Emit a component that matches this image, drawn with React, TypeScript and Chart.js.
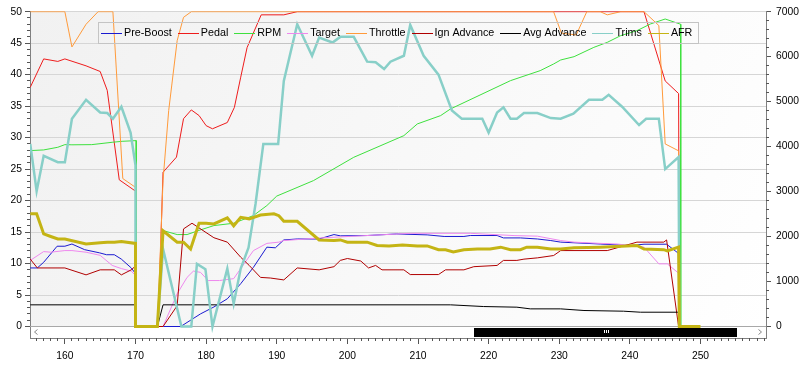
import { useEffect, useRef } from "react";
import { Chart, registerables } from "chart.js";

Chart.register(...registerables);

type P = [number, number];

// ---------- data ----------
const xTicks = [160, 170, 180, 190, 200, 210, 220, 230, 240, 250];
const leftTicks = [0, 5, 10, 15, 20, 25, 30, 35, 40, 45, 50];
const rightTicks = [0, 1000, 2000, 3000, 4000, 5000, 6000, 7000];
const seriesNames = ["Pre-Boost", "Pedal", "RPM", "Target", "Throttle", "Ign Advance", "Avg Advance", "Trims", "AFR"];
const scrollThumb = [217.9, 255.2];

const preBoost: P[] = [
  [155.1, 9.3], [156.1, 9.3], [157, 10.2], [158.9, 12.75], [160, 12.75], [161, 13.1], [162.8, 12.2], [164.9, 11.7],
  [165.9, 11.4], [167, 11.4], [168, 10.7], [169.4, 9.3], [170, 8.4], [170, 0], [176.4, 0], [179.2, 2.0], [181.1, 3.1],
  [183, 4.4], [184.9, 6.8], [186.7, 9.4], [188.6, 12.6], [189.8, 12.5], [191, 13.75], [192.9, 13.9], [196, 13.9],
  [198.1, 14.6], [199, 14.4], [202.8, 14.45], [207, 14.7], [211.3, 14.55], [213.7, 14.3], [216.5, 14.3], [217.4, 14.45],
  [221.2, 14.45], [222.1, 14.07], [224.5, 14.07], [226.9, 13.9], [228.8, 13.65], [230.2, 13.4], [235.8, 13.1],
  [240.1, 12.86], [242, 13.07], [245.2, 13.07], [246.9, 11.6], [247, 0],
];

const pedal: P[] = [
  [155.1, 38], [157, 42.5], [159, 42.1], [160, 42.5], [163, 41.4], [165, 40.5], [166, 37.5], [167.7, 23.3], [170, 21.5],
  [170, 0], [173.2, 0], [173.9, 24.5], [175.8, 26.9], [176.8, 33], [177.9, 34.4], [179, 33.5], [180, 31.9], [180.9, 31.4],
  [183, 32.4], [184, 34.8], [184.9, 39.6], [185.8, 44.3], [187.8, 49.5], [191, 49.5], [192.9, 50], [242, 50], [245, 39],
  [246.9, 37], [247, 0],
];

const rpm: P[] = [
  [155.1, 3911], [157, 3926], [159, 3985], [160, 4044], [161, 4040], [163.8, 4044], [166.7, 4096], [168.1, 4118],
  [170.1, 4133], [170.1, 0], [173.1, 0], [173.9, 2133], [175.9, 2044], [177.3, 2044], [179.2, 2148], [181.1, 2244],
  [183.9, 2296], [186.7, 2467], [188.6, 2689], [190, 2900], [195.2, 3244], [200.9, 3762], [208, 4244], [209.9, 4504],
  [213.2, 4689], [214.6, 4837], [223.1, 5467], [227.3, 5689], [229.2, 5837], [230.2, 5926], [232.1, 6000],
  [234.9, 6207], [236.8, 6318], [238.7, 6467], [241, 6578], [242.9, 6726], [245, 6837], [247.2, 6720], [247.2, 0],
];

const target: P[] = [
  [155.1, 10.5], [157, 11.9], [158, 11.8], [160, 12.06], [161, 12.06], [163, 11.8], [165, 11.3], [166.7, 9.7],
  [168, 9.2], [169.4, 8.8], [170, 8.1], [170, 0], [173.9, 0], [175.9, 5.2], [177.3, 7.8], [178.2, 8.8], [179.2, 8.6],
  [180.3, 7.3], [181.9, 7.3], [183.9, 7.6], [184.9, 9.2], [186.7, 12.06], [188.6, 13.2], [190.3, 13.4], [191, 13.65],
  [196.2, 14.07], [208.9, 14.8], [217.4, 14.8], [223.6, 14.44], [226.9, 14.35], [230.2, 13.65], [232.1, 13.4],
  [235.8, 13.2], [238.2, 13.1], [240.1, 12.86], [242, 12.6], [244.1, 9.95], [245.3, 9.95], [246.9, 8.47], [247, 0],
];

const throttle: P[] = [
  [155.1, 50], [160, 50], [161, 44.4], [163, 48], [164.7, 50], [166.8, 50], [168.2, 23.5], [170, 22.1], [170, 0],
  [173.1, 0], [173.9, 23.2], [174.7, 34.3], [175.9, 45.4], [176.8, 49.1], [177.9, 50], [229.2, 50], [230.3, 46.6],
  [232.4, 46.3], [233.9, 50], [235.8, 50], [236.8, 49.5], [238.7, 50], [242, 50], [244.1, 47.8], [245, 29],
  [246.9, 27.9], [247, 0],
];

const ignAdvance: P[] = [
  [155.1, 10.7], [156.1, 9.3], [160, 9.3], [163, 8.2], [165, 9.0], [167, 9.0], [168, 8.2], [169.4, 9.0], [170, 9.6],
  [170, 0], [173.9, 0], [175.9, 3.3], [176.8, 15.5], [178, 16.4], [181.1, 14.1], [183, 13.4], [184.9, 11.0],
  [186.1, 9.7], [187.7, 7.8], [189.1, 7.7], [191, 7.4], [192.9, 9.3], [196, 9.0], [198.1, 9.5], [199, 10.5],
  [200, 10.8], [201.9, 10.4], [203, 9.3], [204, 9.7], [204.9, 9.0], [208, 9.0], [208.9, 8.25], [212.9, 8.25],
  [213.9, 9.0], [216.5, 9.0], [217.9, 9.5], [221.2, 9.7], [222.1, 10.5], [224, 10.5], [225, 10.7], [226.9, 10.9],
  [229.2, 11.27], [230.2, 12.06], [236.8, 12.06], [241, 13.4], [244.8, 13.4], [245.2, 13.75], [246.9, 0],
];

const avgAdvance: P[] = [
  [155.1, 3.44], [170, 3.44], [170, 0], [173.1, 0], [173.9, 3.44], [214.6, 3.44], [219.3, 3.17], [224, 3.07],
  [225.9, 2.8], [230.2, 2.8], [233.5, 2.54], [239.1, 2.43], [241.5, 2.27], [246.9, 2.27], [247, 0],
];

const trims: P[] = [
  [155.1, 29], [156, 21.5], [157, 27.1], [159, 26.1], [160, 26.1], [161, 33], [163, 36], [165, 34], [166, 33.9],
  [166.8, 33], [168, 34.9], [169.3, 30.8], [170, 25.6], [170, 0], [173.1, 0], [173.9, 12.3], [176.5, 0], [177.9, 0],
  [178.7, 9.95], [179.9, 9.1], [180.9, 0], [183, 9.2], [183.9, 3.6], [184.9, 9.2], [186, 12.5], [187, 19.5],
  [188.1, 29], [190.2, 29], [191, 39], [192.9, 48], [195, 43], [196, 45.9], [197.9, 45.1], [199, 46], [200.9, 46],
  [202.8, 42.06], [204, 41.96], [205.2, 40.9], [206.1, 42.06], [208, 43], [208.9, 47.9], [210.8, 43], [212.9, 40],
  [214.8, 34.3], [216.2, 33], [219.1, 33], [220, 30.8], [221.2, 34], [222.1, 34.8], [223.1, 33], [224, 33],
  [225, 33.9], [226.9, 33.9], [228.8, 33.1], [230.2, 33], [232, 33.8], [234.2, 36], [236.1, 36], [237, 36.8],
  [238.9, 34.9], [241.3, 32], [242.3, 33], [244.1, 33], [245, 25], [246.9, 26.9], [247, 0],
];

const afr: P[] = [
  [155.1, 17.9], [156, 17.9], [157, 14.7], [158, 14.3], [159, 13.9], [160, 13.9], [163, 13.1], [165, 13.3],
  [166, 13.4], [167, 13.4], [168, 13.5], [170, 13.2], [170, 0], [173.1, 0], [173.9, 15.2], [175.9, 13.4],
  [176.8, 13.4], [177.8, 12.3], [179, 16.4], [180, 16.4], [181.1, 16.3], [183, 17.25], [183.9, 16], [184.9, 17.35],
  [186.1, 17.1], [187.7, 17.7], [189.6, 17.9], [190.3, 17.6], [191, 16.7], [192.9, 16.7], [196, 13.75],
  [198.1, 13.65], [199, 13.75], [200, 13.4], [202.8, 13.4], [204.2, 12.86], [205.9, 12.8], [207.8, 12.95],
  [209.9, 12.8], [211.3, 12.8], [212.9, 12.2], [213.9, 12.2], [215, 11.85], [216.5, 12.2], [218.4, 12.3],
  [220.2, 12.3], [221.7, 12.6], [223.1, 12.2], [224.5, 12.2], [225.4, 12.6], [226.9, 12.6], [228.8, 12.3],
  [230.2, 12.3], [232.1, 12.5], [235.8, 12.6], [241, 12.86], [242, 12.3], [244.8, 12.2], [245.3, 12.0],
  [246.9, 12.6], [247, 0], [250, 0],
];

const seriesData: P[][] = [preBoost, pedal, rpm, target, throttle, ignAdvance, avgAdvance, trims, afr];
const seriesColors = ["#1a1ad0", "#ee1c1c", "#3ee03e", "#ee88ee", "#ff9a3a", "#b00000", "#000000", "#88cfc8", "#c4b414"];
const seriesWidths = [1, 1, 1, 1, 1, 1, 1, 2.5, 3];
const seriesAxis = ["y", "y", "y2", "y", "y", "y", "y", "y", "y"];

// ---------- frame ranges (chosen so 0, 50 and whole x values land on pixel centres) ----------
const X_MIN = 155.062;
const X_MAX = 259.274;
const Y_MAX = 50.08;
const Y_MIN = -1.826;
const Y2_MIN = Y_MIN * 140;
const Y2_MAX = Y_MAX * 140;

const TICK_FONT = { family: "'Liberation Sans', Arial, sans-serif", size: 10.3 };
const LEGEND_FONT = "10.75px 'Liberation Sans', Arial, sans-serif";

const backgroundPlugin = {
  id: "bgPlugin",
  beforeDraw(chart: any) {
    const { ctx, chartArea: a } = chart;
    ctx.save();
    ctx.fillStyle = "#ffffff";
    ctx.fillRect(0, 0, chart.width, chart.height);
    const g = ctx.createLinearGradient(a.left, a.top, a.right, a.bottom);
    g.addColorStop(0, "#f1f1f1");
    g.addColorStop(1, "#ffffff");
    ctx.fillStyle = g;
    ctx.fillRect(a.left, a.top, a.right - a.left, a.bottom - a.top);
    ctx.restore();
  },
};

const scrollbarPlugin = {
  id: "scrollbarPlugin",
  beforeDatasetsDraw(chart: any) {
    const { ctx, chartArea: a, scales } = chart;
    const y0 = Math.floor(scales.y.getPixelForValue(0));
    ctx.save();
    ctx.fillStyle = "#ffffff";
    ctx.fillRect(a.left + 1, y0 + 1, a.right - a.left - 2, a.bottom - y0 - 1);
    ctx.fillStyle = "#a8a8a8";
    ctx.fillRect(a.left, y0, a.right - a.left, 1);
    const x1 = Math.round(scales.x.getPixelForValue(scrollThumb[0]));
    const x2 = Math.round(scales.x.getPixelForValue(scrollThumb[1]));
    ctx.fillStyle = "#000000";
    ctx.fillRect(x1, y0 + 2, x2 - x1, a.bottom - y0 - 3);
    const cx = Math.round((x1 + x2) / 2);
    const cy = Math.round((y0 + a.bottom) / 2);
    ctx.fillStyle = "#ffffff";
    for (const d of [-2, 0, 2]) ctx.fillRect(cx + d, cy - 2, 1, 3);
    ctx.strokeStyle = "#8a8a8a";
    ctx.lineWidth = 1;
    ctx.beginPath();
    ctx.moveTo(a.left + 7.5, y0 + 3.5);
    ctx.lineTo(a.left + 4.5, y0 + 6);
    ctx.lineTo(a.left + 7.5, y0 + 8.5);
    ctx.moveTo(a.right - 7.5, y0 + 3.5);
    ctx.lineTo(a.right - 4.5, y0 + 6);
    ctx.lineTo(a.right - 7.5, y0 + 8.5);
    ctx.stroke();
    ctx.restore();
  },
};

const legendPlugin = {
  id: "boxLegend",
  afterDatasetsDraw(chart: any) {
    const { ctx, chartArea: a } = chart;
    ctx.save();
    ctx.font = LEGEND_FONT;
    const widths = seriesNames.map((n) => ctx.measureText(n).width);
    const lineLen = 21, gapLT = 2, gapTL = 6, padL = 3, padR = 6, h = 21;
    let total = padL + padR;
    widths.forEach((w, i) => {
      total += lineLen + gapLT + w + (i < widths.length - 1 ? gapTL : 0);
    });
    const left = Math.round((a.left + a.right) / 2 - total / 2);
    const top = Math.round(a.top + 11);
    const W = Math.round(total);
    ctx.fillStyle = "#c4c4c4";
    ctx.fillRect(left, top, W, 1);
    ctx.fillRect(left, top + h, W + 1, 1);
    ctx.fillRect(left, top, 1, h);
    ctx.fillRect(left + W, top, 1, h);
    const cy = top + Math.round(h / 2);
    let x = left + padL;
    ctx.textBaseline = "middle";
    ctx.textAlign = "left";
    seriesNames.forEach((n, i) => {
      ctx.fillStyle = seriesColors[i];
      ctx.fillRect(Math.round(x), cy, lineLen, 1);
      ctx.fillStyle = "#000000";
      ctx.fillText(n, x + lineLen + gapLT, cy + 0.5);
      x += lineLen + gapLT + widths[i] + gapTL;
    });
    ctx.restore();
  },
};

const minorTicksPlugin = {
  id: "minorTicks",
  afterDraw(chart: any) {
    const { ctx, chartArea: a, scales } = chart;
    ctx.save();
    ctx.fillStyle = "#555555";
    for (let v = 1; v < 50; v++) {
      if (v % 5 === 0) continue;
      const py = Math.floor(scales.y.getPixelForValue(v));
      ctx.fillRect(a.left - 3, py, 3, 1);
    }
    for (let v = 200; v < 7000; v += 200) {
      if (v % 1000 === 0) continue;
      const py = Math.floor(scales.y2.getPixelForValue(v));
      ctx.fillRect(a.right, py, 3, 1);
    }
    for (let v = Math.ceil(X_MIN); v <= Math.floor(X_MAX); v++) {
      if (v % 10 === 0) continue;
      const px = Math.floor(scales.x.getPixelForValue(v));
      ctx.fillRect(px, a.bottom, 1, 3);
    }
    ctx.restore();
  },
};

export default function App() {
  const ref = useRef<HTMLCanvasElement>(null);

  useEffect(() => {
    document.body.style.margin = "0";
    const canvas = ref.current;
    if (!canvas) return;

    const n = seriesNames.length;
    const datasets = seriesNames.map((name, i) => ({
      label: name,
      data: seriesData[i].map(([x, y]) => ({ x, y })),
      borderColor: seriesColors[i],
      backgroundColor: seriesColors[i],
      borderWidth: seriesWidths[i],
      pointRadius: 0,
      tension: 0,
      fill: false,
      yAxisID: seriesAxis[i],
      order: n - 1 - i, // later series are drawn on top, as in the reference
    }));

    const chart = new Chart(canvas, {
      type: "line",
      data: { datasets },
      options: {
        responsive: false,
        animation: false,
        devicePixelRatio: 1,
        layout: { padding: { top: 11, left: 0, right: 0, bottom: 0 } },
        plugins: {
          legend: { display: false },
          tooltip: { enabled: false },
        },
        events: [],
        scales: {
          x: {
            type: "linear",
            position: "bottom",
            min: X_MIN,
            max: X_MAX,
            afterBuildTicks: (s: any) => {
              s.ticks = xTicks.map((v) => ({ value: v }));
            },
            afterFit: (s: any) => {
              s.height = 29;
            },
            grid: { drawOnChartArea: false, drawTicks: true, tickLength: 6, tickColor: "#555555" },
            border: { display: true, color: "#808080" },
            ticks: { font: TICK_FONT, color: "#000000", padding: 6, maxRotation: 0, callback: (v: any) => String(v) },
          },
          y: {
            type: "linear",
            position: "left",
            min: Y_MIN,
            max: Y_MAX,
            afterBuildTicks: (s: any) => {
              s.ticks = leftTicks.map((v) => ({ value: v }));
            },
            afterFit: (s: any) => {
              s.width = 30;
            },
            grid: { color: "#d6d6d6", drawTicks: true, tickLength: 5, tickColor: "#555555" },
            border: { display: true, color: "#808080" },
            ticks: { font: TICK_FONT, color: "#000000", padding: 3, callback: (v: any) => String(v) },
          },
          y2: {
            type: "linear",
            position: "right",
            min: Y2_MIN,
            max: Y2_MAX,
            afterBuildTicks: (s: any) => {
              s.ticks = rightTicks.map((v) => ({ value: v }));
            },
            afterFit: (s: any) => {
              s.width = 41;
            },
            grid: { drawOnChartArea: false, drawTicks: true, tickLength: 5, tickColor: "#555555" },
            border: { display: true, color: "#808080" },
            ticks: { font: TICK_FONT, color: "#000000", padding: 5, callback: (v: any) => String(v) },
          },
        },
      },
      plugins: [backgroundPlugin, scrollbarPlugin, legendPlugin, minorTicksPlugin],
    } as any);

    return () => chart.destroy();
  }, []);

  return (
    <div style={{ width: 807, height: 367 }}>
      <canvas ref={ref} width={807} height={367} style={{ display: "block", width: 807, height: 367 }} />
    </div>
  );
}
